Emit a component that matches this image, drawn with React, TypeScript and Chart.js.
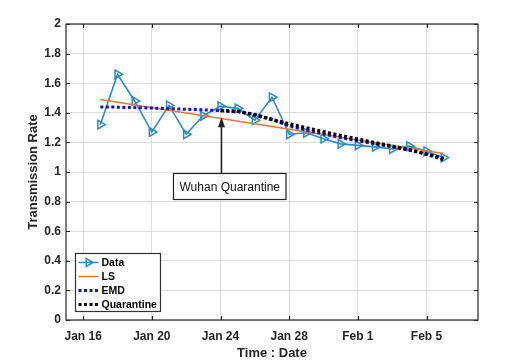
import React, { useEffect, useRef } from 'react';
import { Chart, registerables } from 'chart.js';

Chart.register(...registerables);

// ---- data ----
const dataDates = ['Jan 17', 'Jan 18', 'Jan 19', 'Jan 20', 'Jan 21', 'Jan 22', 'Jan 23', 'Jan 24', 'Jan 25', 'Jan 26', 'Jan 27', 'Jan 28', 'Jan 29', 'Jan 30', 'Jan 31', 'Feb 1', 'Feb 2', 'Feb 3', 'Feb 4', 'Feb 5', 'Feb 6'];
const dataValues = [1.32, 1.66, 1.48, 1.27, 1.45, 1.255, 1.38, 1.445, 1.43, 1.35, 1.505, 1.255, 1.265, 1.225, 1.19, 1.18, 1.17, 1.155, 1.175, 1.14, 1.097];

const lsDates = ['Jan 17', 'Feb 6'];
const lsValues = [1.49, 1.125];

const emdDates = dataDates;
const emdValues = [1.44, 1.438, 1.435, 1.432, 1.428, 1.424, 1.42, 1.415, 1.408, 1.39, 1.355, 1.31, 1.283, 1.256, 1.232, 1.21, 1.19, 1.17, 1.148, 1.122, 1.095];

const quarDates = ['Jan 24', 'Jan 25', 'Jan 26', 'Jan 27', 'Jan 28', 'Jan 29', 'Jan 30', 'Jan 31', 'Feb 1', 'Feb 2', 'Feb 3', 'Feb 4', 'Feb 5', 'Feb 6'];
const quarValues = [1.415, 1.41, 1.385, 1.355, 1.325, 1.298, 1.272, 1.246, 1.222, 1.198, 1.174, 1.15, 1.12, 1.085];

const xTickLabels = ['Jan 16', 'Jan 20', 'Jan 24', 'Jan 28', 'Feb 1', 'Feb 5'];
const yTicks = [0, 0.2, 0.4, 0.6, 0.8, 1, 1.2, 1.4, 1.6, 1.8, 2];
const xMinDate = 'Jan 15';
const xMaxDate = 'Feb 8';

const annotationText = 'Wuhan Quarantine';
const annotationDate = 'Jan 24';
const arrowFromValue = 0.99;
const arrowToValue = 1.37;

const seriesLabels = ['Data', 'LS', 'EMD', 'Quarantine'];

function dayNum(s: string): number {
  const [m, d] = s.split(' ');
  return (m === 'Feb' ? 31 : 0) + Number(d);
}
function pts(dates: string[], vals: number[]) {
  return dates.map((d, i) => ({ x: dayNum(d), y: vals[i] }));
}

const FONT = "'Liberation Sans', Arial, Helvetica, sans-serif";
const AXIS_COLOR = '#262626';
const DATA_COLOR = '#2b8cc4';
const LS_COLOR = '#e07a3a';
const EMD_COLOR = '#1010e6';
const QUAR_COLOR = '#000000';

function drawRightTriangle(ctx: CanvasRenderingContext2D, x: number, y: number, r: number) {
  ctx.beginPath();
  ctx.moveTo(x + r, y);
  ctx.lineTo(x - r * 0.5, y - r * 0.866);
  ctx.lineTo(x - r * 0.5, y + r * 0.866);
  ctx.closePath();
  ctx.stroke();
}

const overlayPlugin = {
  id: 'overlay',
  afterDraw(chart: any) {
    const { ctx, chartArea: a, scales } = chart;
    const x = scales.x;
    const y = scales.y;
    ctx.save();

    // box & inward ticks
    ctx.strokeStyle = AXIS_COLOR;
    ctx.lineWidth = 1.2;
    ctx.beginPath();
    for (const l of xTickLabels) {
      const px = Math.round(x.getPixelForValue(dayNum(l))) + 0.5;
      ctx.moveTo(px, a.bottom);
      ctx.lineTo(px, a.bottom - 4);
      ctx.moveTo(px, a.top);
      ctx.lineTo(px, a.top + 4);
    }
    for (const v of yTicks) {
      const py = Math.round(y.getPixelForValue(v)) + 0.5;
      ctx.moveTo(a.left, py);
      ctx.lineTo(a.left + 4, py);
      ctx.moveTo(a.right, py);
      ctx.lineTo(a.right - 4, py);
    }
    ctx.stroke();
    ctx.strokeRect(a.left, a.top, a.right - a.left, a.bottom - a.top);

    // annotation arrow
    const ax = Math.round(x.getPixelForValue(dayNum(annotationDate))) + 0.5;
    const y0 = y.getPixelForValue(arrowFromValue);
    const y1 = y.getPixelForValue(arrowToValue);
    ctx.strokeStyle = '#222';
    ctx.fillStyle = '#222';
    ctx.lineWidth = 1.5;
    ctx.beginPath();
    ctx.moveTo(ax, y0);
    ctx.lineTo(ax, y1 + 8);
    ctx.stroke();
    ctx.beginPath();
    ctx.moveTo(ax, y1);
    ctx.lineTo(ax - 3.5, y1 + 10);
    ctx.lineTo(ax + 3.5, y1 + 10);
    ctx.closePath();
    ctx.fill();

    // annotation box
    ctx.font = `12px ${FONT}`;
    const tw = ctx.measureText(annotationText).width;
    const bw = tw + 12;
    const bh = 26;
    const bcx = ax + 8;
    const bx = Math.round(bcx - bw / 2) + 0.5;
    const by = Math.round(y0) + 0.5;
    ctx.fillStyle = '#ffffff';
    ctx.fillRect(bx, by, bw, bh);
    ctx.strokeStyle = '#222';
    ctx.lineWidth = 1.2;
    ctx.strokeRect(bx, by, bw, bh);
    ctx.fillStyle = '#111';
    ctx.textAlign = 'center';
    ctx.textBaseline = 'middle';
    ctx.fillText(annotationText, bx + bw / 2, by + bh / 2 + 1);

    // legend
    const lx = a.left + 9.5;
    const ly = a.bottom - 66.5;
    const lw = 85;
    const lh = 58;
    ctx.fillStyle = '#ffffff';
    ctx.fillRect(lx, ly, lw, lh);
    ctx.strokeStyle = '#333';
    ctx.lineWidth = 1.2;
    ctx.strokeRect(lx, ly, lw, lh);
    const rows = [ly + 9, ly + 23, ly + 37, ly + 51];
    const sx0 = lx + 3;
    const sx1 = lx + 23;
    ctx.font = `bold 10.5px ${FONT}`;
    ctx.textAlign = 'left';
    ctx.textBaseline = 'middle';
    rows.forEach((ry, i) => {
      ctx.save();
      if (i === 0) {
        ctx.strokeStyle = DATA_COLOR;
        ctx.lineWidth = 1.5;
        ctx.beginPath();
        ctx.moveTo(sx0, ry);
        ctx.lineTo(sx1, ry);
        ctx.stroke();
        drawRightTriangle(ctx, (sx0 + sx1) / 2, ry, 4.5);
      } else if (i === 1) {
        ctx.strokeStyle = LS_COLOR;
        ctx.lineWidth = 1.5;
        ctx.beginPath();
        ctx.moveTo(sx0, ry);
        ctx.lineTo(sx1, ry);
        ctx.stroke();
      } else {
        ctx.strokeStyle = i === 2 ? EMD_COLOR : QUAR_COLOR;
        ctx.lineWidth = 3;
        ctx.setLineDash([3, 2.5]);
        ctx.beginPath();
        ctx.moveTo(sx0, ry);
        ctx.lineTo(sx1, ry);
        ctx.stroke();
      }
      ctx.restore();
      ctx.fillStyle = '#000';
      ctx.fillText(seriesLabels[i], lx + 26, ry + 0.5);
    });

    ctx.restore();
  },
};

export default function App() {
  const ref = useRef<HTMLCanvasElement | null>(null);

  useEffect(() => {
    document.body.style.margin = '0';
    const canvas = ref.current;
    if (!canvas) return;
    const chart = new Chart(canvas, {
      type: 'line',
      data: {
        datasets: [
          {
            label: seriesLabels[0],
            data: pts(dataDates, dataValues),
            borderColor: DATA_COLOR,
            backgroundColor: 'rgba(0,0,0,0)',
            borderWidth: 1.6,
            pointStyle: 'triangle',
            rotation: 90,
            pointRadius: 5,
            pointBorderWidth: 1.5,
            pointBorderColor: DATA_COLOR,
            pointBackgroundColor: 'rgba(0,0,0,0)',
            tension: 0,
            order: 4,
          },
          {
            label: seriesLabels[1],
            data: pts(lsDates, lsValues),
            borderColor: LS_COLOR,
            borderWidth: 1.5,
            pointRadius: 0,
            tension: 0,
            order: 3,
          },
          {
            label: seriesLabels[2],
            data: pts(emdDates, emdValues),
            borderColor: EMD_COLOR,
            borderWidth: 3,
            borderDash: [3, 2.5],
            pointRadius: 0,
            tension: 0,
            order: 2,
          },
          {
            label: seriesLabels[3],
            data: pts(quarDates, quarValues),
            borderColor: QUAR_COLOR,
            borderWidth: 3.5,
            borderDash: [3, 2.5],
            pointRadius: 0,
            tension: 0,
            order: 1,
          },
        ],
      },
      options: {
        animation: false,
        responsive: false,
        devicePixelRatio: 1,
        layout: { padding: { left: 0, top: 24, right: 39, bottom: 0 } },
        plugins: {
          legend: { display: false },
          tooltip: { enabled: false },
        },
        scales: {
          x: {
            type: 'linear',
            min: dayNum(xMinDate),
            max: dayNum(xMaxDate),
            afterBuildTicks: (scale: any) => {
              scale.ticks = xTickLabels.map((l) => ({ value: dayNum(l) }));
            },
            afterFit: (scale: any) => {
              scale.height = 42;
            },
            ticks: {
              autoSkip: false,
              maxRotation: 0,
              padding: 9,
              color: AXIS_COLOR,
              font: { family: FONT, size: 12, weight: 'bold' },
              callback: (v: any) => {
                const l = xTickLabels.find((t) => dayNum(t) === v);
                return l ?? '';
              },
            },
            grid: { color: '#dedede', drawTicks: false, lineWidth: 1 },
            border: { display: false },
            title: {
              display: true,
              text: 'Time : Date',
              color: AXIS_COLOR,
              font: { family: FONT, size: 13, weight: 'bold' },
              padding: { top: 0, bottom: 1 },
            },
          },
          y: {
            type: 'linear',
            min: 0,
            max: 2,
            afterBuildTicks: (scale: any) => {
              scale.ticks = yTicks.map((v) => ({ value: v }));
            },
            afterFit: (scale: any) => {
              scale.width = 66;
            },
            ticks: {
              padding: 5,
              color: AXIS_COLOR,
              font: { family: FONT, size: 12, weight: 'bold' },
              callback: (v: any) => String(Math.round(v * 10) / 10),
            },
            grid: { color: '#dedede', drawTicks: false, lineWidth: 1 },
            border: { display: false },
            title: {
              display: true,
              text: 'Transmission Rate',
              color: AXIS_COLOR,
              font: { family: FONT, size: 13, weight: 'bold' },
              padding: { top: 26, bottom: 0 },
            },
          },
        },
      },
      plugins: [overlayPlugin],
    } as any);
    return () => chart.destroy();
  }, []);

  return (
    <div style={{ position: 'absolute', left: 0, top: 0, width: 517, height: 362, background: '#ffffff' }}>
      <canvas ref={ref} width={517} height={362} style={{ display: 'block', width: 517, height: 362 }} />
    </div>
  );
}
